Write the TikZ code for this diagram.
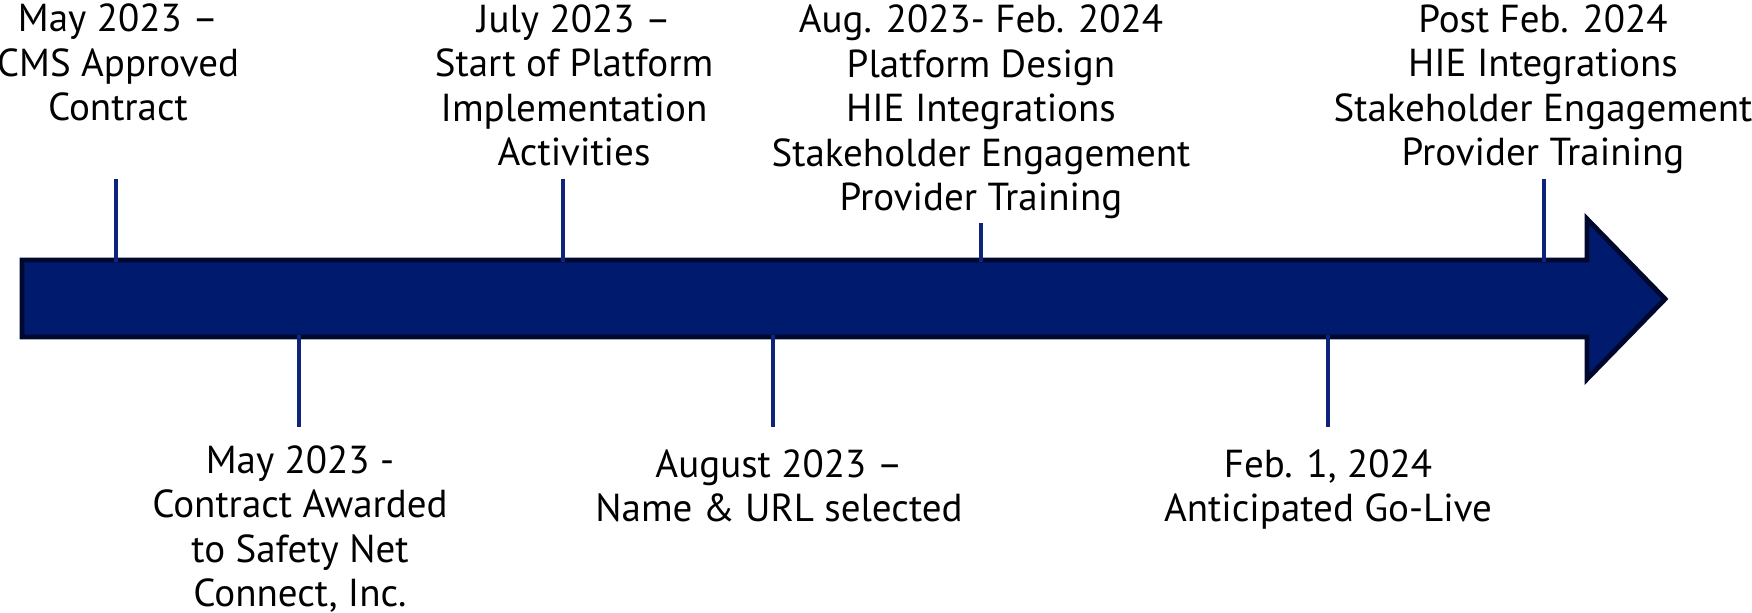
\documentclass[tikz,border=0pt]{standalone}
\usepackage{fontspec}
\setmainfont{PT Sans}
\usepackage{tikz}
\usetikzlibrary{calc}
\definecolor{barfill}{RGB}{0,26,110}
\definecolor{baredge}{RGB}{0,8,46}
\definecolor{tickblue}{RGB}{14,36,122}
\tikzstyle{timebar}=[fill=barfill, draw=baredge, line width=1.4pt, line join=miter]
\tikzstyle{tick}=[draw=tickblue, line width=1.3pt]
\tikzstyle{event}=[align=center, inner sep=0pt, font=\fontsize{11.1}{12.7}\selectfont]

\begin{document}
\begin{tikzpicture}
	\useasboundingbox (0,0) rectangle (17.52,6.13);
	\draw[timebar] (0.22,2.76) -- (15.87,2.76) -- (15.87,2.34) -- (16.65,3.14) -- (15.87,3.94) -- (15.87,3.53) -- (0.22,3.53) -- cycle;
	% above the bar
	\coordinate (a1) at (1.16,3.51);
	\coordinate (a1end) at (1.16,4.34);
	\coordinate (a2) at (5.63,3.51);
	\coordinate (a2end) at (5.63,4.34);
	\coordinate (a3) at (9.81,3.51);
	\coordinate (a3end) at (9.81,3.90);
	\coordinate (a4) at (15.44,3.51);
	\coordinate (a4end) at (15.44,4.34);
	\draw[tick] (a1) -- (a1end);
	\draw[tick] (a2) -- (a2end);
	\draw[tick] (a3) -- (a3end);
	\draw[tick] (a4) -- (a4end);
	% base anchor = last line
	\node[event, anchor=base] (e1) at (1.18,4.92) {May 2023 –\\CMS Approved\\Contract};
	\node[event, anchor=base] (e2) at (5.74,4.47) {July 2023 –\\Start of Platform\\Implementation\\Activities};
	\node[event, anchor=base] (e3) at (9.81,4.02) {Aug. 2023- Feb. 2024\\Platform Design\\HIE Integrations\\Stakeholder Engagement\\Provider Training};
	\node[event, anchor=base] (e4) at (15.43,4.47) {Post Feb. 2024\\HIE Integrations\\Stakeholder Engagement\\Provider Training};
	% below the bar
	\coordinate (b1) at (2.99,2.78);
	\coordinate (b1end) at (2.99,1.86);
	\coordinate (b2) at (7.73,2.78);
	\coordinate (b2end) at (7.73,1.86);
	\coordinate (b3) at (13.28,2.78);
	\coordinate (b3end) at (13.28,1.86);
	\draw[tick] (b1) -- (b1end);
	\draw[tick] (b2) -- (b2end);
	\draw[tick] (b3) -- (b3end);
	\node[event, anchor=base] (e5) at (3.00,0.06) {May 2023 -\\Contract Awarded\\to Safety Net\\Connect, Inc.};
	\node[event, anchor=base] (e6) at (7.79,0.91) {August 2023 –\\Name \& URL selected};
	\node[event, anchor=base] (e7) at (13.28,0.91) {Feb. 1, 2024\\Anticipated Go-Live};
\end{tikzpicture}
\end{document}
